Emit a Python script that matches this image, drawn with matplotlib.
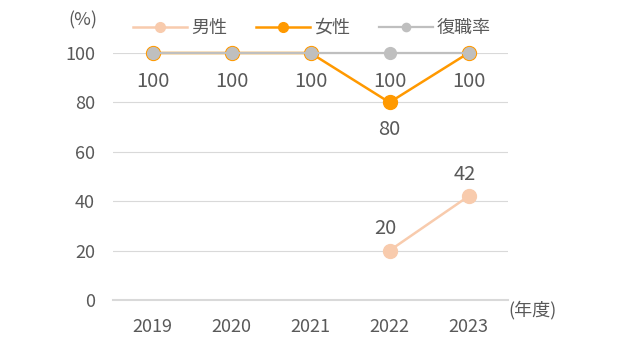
import numpy as np
import matplotlib.pyplot as plt

plt.rcParams['font.family'] = ['Noto Sans CJK JP', 'DejaVu Sans']

years = ['2019', '2020', '2021', '2022', '2023']
male = [np.nan, np.nan, np.nan, 20, 42]
female = [100, 100, 100, 80, 100]
return_rate = [100, 100, 100, 100, 100]

C_MALE = '#F8CBAD'
C_FEMALE = '#FF9900'
C_RATE = '#BFBFBF'
C_TEXT = '#595959'
C_GRID = '#D9D9D9'

fig = plt.figure(figsize=(6.3, 3.43), dpi=100)
ax = fig.add_axes([113/630, 1-300/343, 395/630, 247/343])

x = np.arange(len(years))

l_male, = ax.plot(x, male, color=C_MALE, lw=1.8, marker='o', ms=10,
                  mec=C_MALE, mfc=C_MALE, clip_on=False, zorder=3)
l_fem, = ax.plot(x, female, color=C_FEMALE, lw=1.8, marker='o', ms=10,
                 mec=C_FEMALE, mfc=C_FEMALE, clip_on=False, zorder=3)
l_rate, = ax.plot(x, return_rate, color=C_RATE, lw=1.6, marker='o', ms=8.5,
                  mec=C_RATE, mfc=C_RATE, clip_on=False, zorder=4)

# value labels
for xi, v in zip(x, male):
    if not np.isnan(v):
        ax.annotate(f'{v:g}', (xi, v), xytext=(-3, 8), textcoords='offset points',
                    ha='center', va='bottom', fontsize=14.5, color=C_TEXT)
for xi, v in zip(x, female):
    if v != 100:
        ax.annotate(f'{v:g}', (xi, v), xytext=(0, -12), textcoords='offset points',
                    ha='center', va='top', fontsize=14.5, color=C_TEXT)
for xi, v in zip(x, return_rate):
    ax.annotate(f'{v:g}', (xi, v), xytext=(0, -13), textcoords='offset points',
                ha='center', va='top', fontsize=14.5, color=C_TEXT)

ax.set_xlim(-0.5, len(years) - 0.5)
ax.set_ylim(0, 100)
ax.set_yticks(np.arange(0, 101, 20))
ax.set_xticks(x)
ax.set_xticklabels(years)
ax.tick_params(axis='both', length=0, labelsize=13, labelcolor=C_TEXT)
ax.tick_params(axis='y', pad=13)
ax.tick_params(axis='x', pad=13)
ax.grid(axis='y', color=C_GRID, lw=0.8)
ax.set_axisbelow(True)
for s in ['top', 'right', 'left']:
    ax.spines[s].set_visible(False)
ax.spines['bottom'].set_color(C_GRID)
ax.spines['bottom'].set_linewidth(1.5)

fig.text(83/630, 1-20/343, '(%)', ha='center', va='center', fontsize=13, color=C_TEXT)
fig.text(533/630, 1-310/343, '(年度)', ha='center', va='center', fontsize=13, color=C_TEXT)

leg = fig.legend([l_male, l_fem, l_rate], ['男性', '女性', '復職率'],
                 loc='center', bbox_to_anchor=(0.495, 1-28/343), ncol=3,
                 frameon=False, fontsize=13, handlelength=3, columnspacing=1.6,
                 handletextpad=0.2, markerscale=0.7, labelcolor=C_TEXT)

fig.savefig('out.png', dpi=100)
